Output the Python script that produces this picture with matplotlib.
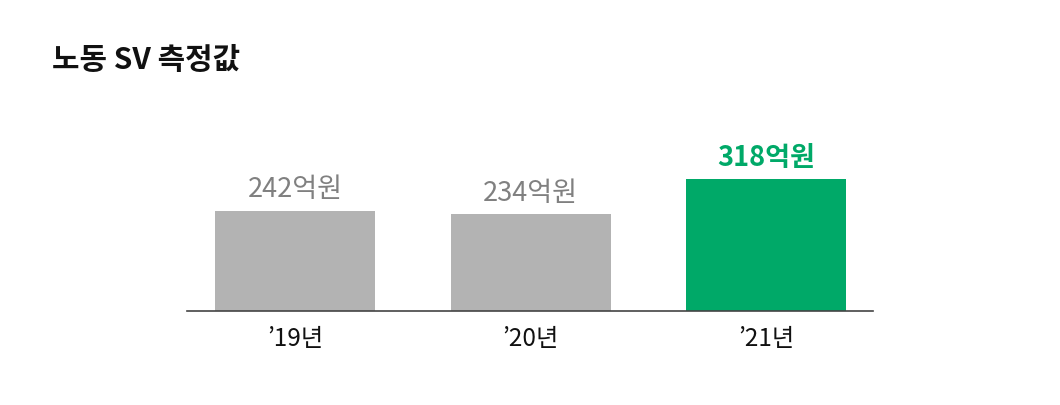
import numpy as np
import matplotlib.pyplot as plt

plt.rcParams['font.family'] = ['Noto Sans CJK KR', 'DejaVu Sans']

# 노동 SV 측정값 (억원)
years = ["’19년", "’20년", "’21년"]
values = [242, 234, 318]
bar_colors = ['#b3b3b3', '#b3b3b3', '#00a968']
label_colors = ['#808080', '#808080', '#00a968']
label_weights = ['normal', 'normal', 'bold']

fig = plt.figure(figsize=(10.6, 4.06), dpi=100)
ax = fig.add_axes([187 / 1060, 1 - 312 / 406, (873 - 187) / 1060, (312 - 100) / 406])

x = np.arange(len(values))
bars = ax.bar(x, values, width=0.68, color=bar_colors)

for b, v, c, w in zip(bars, values, label_colors, label_weights):
    ax.annotate(f"{v}억원", (b.get_x() + b.get_width() / 2, b.get_height()),
                xytext=(0, 6), textcoords='offset points',
                ha='center', va='bottom', fontsize=19.5, color=c, fontweight=w)

ax.set_xlim(-0.459, 2.454)
ax.set_ylim(0, 512)
ax.set_xticks(x)
ax.set_xticklabels(years, fontsize=17.5, color='#111111')
ax.tick_params(axis='x', length=0, pad=10)
ax.set_yticks([])
for s in ['top', 'left', 'right']:
    ax.spines[s].set_visible(False)
ax.spines['bottom'].set_color('#444444')
ax.spines['bottom'].set_linewidth(1.2)

fig.text(52 / 1060, 1 - 60 / 406, "노동 SV 측정값", fontsize=21.5, fontweight='bold',
         color='#111111', ha='left', va='center')

fig.savefig('out.png', dpi=100)
